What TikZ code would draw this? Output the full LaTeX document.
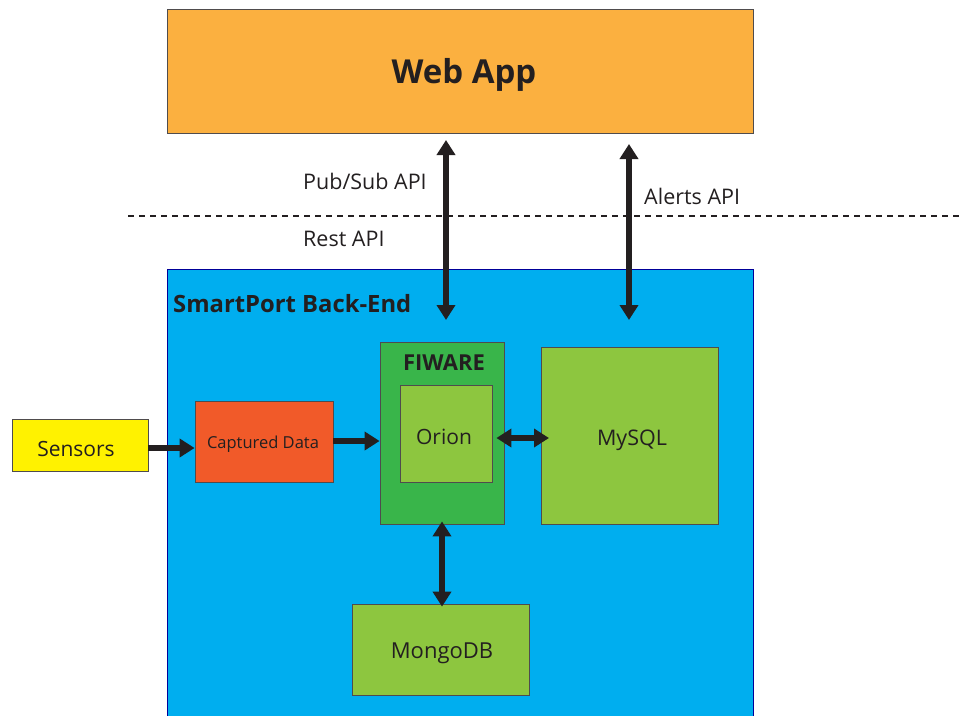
\documentclass[tikz,border=0pt]{standalone}
\usepackage{fontspec}
\setmainfont{Open Sans}
\usetikzlibrary{arrows.meta}
\definecolor{txt}{HTML}{231F20}
\definecolor{orangeapp}{HTML}{FBB040}
\definecolor{backblue}{HTML}{00AEEF}
\definecolor{fiwgreen}{HTML}{39B54A}
\definecolor{ltgreen}{HTML}{8DC63F}
\definecolor{capred}{HTML}{F15A29}
\definecolor{sensyellow}{HTML}{FFF200}
\tikzset{
  box/.style={draw=txt!80, line width=0.8pt, rectangle, inner sep=0pt, text=txt, align=center},
  boxtext/.style={text=txt, inner sep=0pt},
  bigarrow/.style={draw=txt, line width=6pt, -{Triangle[length=15pt,width=18pt]}},
  dblarrow/.style={draw=txt, line width=6pt, {Triangle[length=15pt,width=18pt]}-{Triangle[length=15pt,width=18pt]}},
  lbl/.style={text=txt, font=\fontsize{21.5}{24}\selectfont, inner sep=0pt, anchor=west}
}
\begin{document}
\begin{tikzpicture}[x=1pt,y=-1pt]
\useasboundingbox (0,0) rectangle (964,715);
% Web App
\node[box, fill=orangeapp, minimum width=586pt, minimum height=124pt] (webapp) at (460,71) {};
\node[boxtext, font=\fontsize{33}{38}\selectfont\bfseries] (webapptxt) at (464,75) {Web App};
% dashed separator
\coordinate (dashL) at (128,216);
\coordinate (dashR) at (964,216);
\draw[txt, line width=1.6pt, dash pattern=on 6pt off 5pt] (dashL) -- (dashR);
% labels
\node[lbl] (pubsub) at (303,181) {Pub/Sub API};
\node[lbl] (rest) at (303,239) {Rest API};
\node[lbl] (alerts) at (644,196) {Alerts API};
% Back-end
\node[draw=blue!60!black, line width=0.8pt, fill=backblue, rectangle, minimum width=586pt, minimum height=460pt, inner sep=0pt] (backend) at (460,499) {};
\node[text=txt, font=\fontsize{23.8}{27}\selectfont\bfseries, anchor=west, inner sep=0pt] (betitle) at (173,304) {SmartPort Back-End};
% FIWARE
\node[box, fill=fiwgreen, minimum width=124pt, minimum height=182pt] (fiware) at (442,433) {};
\node[boxtext, font=\fontsize{22}{25}\selectfont\bfseries] (fiwtitle) at (444,363) {FIWARE};
\node[box, fill=ltgreen, minimum width=92pt, minimum height=97pt] (orion) at (446,433.5) {};
\node[boxtext, font=\fontsize{21}{24}\selectfont] (oriontxt) at (444,437) {Orion};
% MySQL
\node[box, fill=ltgreen, minimum width=177pt, minimum height=177pt] (mysql) at (629.5,435.5) {};
\node[boxtext, font=\fontsize{21.5}{24}\selectfont] (mysqltxt) at (632,440) {MySQL};
% Captured Data
\node[box, fill=capred, minimum width=138pt, minimum height=81pt] (captured) at (264,441.5) {};
\node[boxtext, font=\fontsize{16.5}{19}\selectfont] (capturedtxt) at (263,444) {Captured Data};
% Sensors
\node[box, fill=sensyellow, minimum width=136pt, minimum height=52pt] (sensors) at (80,445) {};
\node[boxtext, font=\fontsize{21}{24}\selectfont] (sensorstxt) at (76,449) {Sensors};
% MongoDB
\node[box, fill=ltgreen, minimum width=177pt, minimum height=91pt] (mongo) at (440.5,649.5) {};
\node[boxtext, font=\fontsize{22}{25}\selectfont] (mongotxt) at (442,653) {MongoDB};
% arrow end coordinates
\coordinate (a1top) at (446,140);
\coordinate (a1bot) at (446,320);
\coordinate (a2top) at (629,144);
\coordinate (a2bot) at (629,320);
% arrows
\draw[bigarrow] (sensors.east |- 0,448) -- (captured.west |- 0,448);
\draw[bigarrow] (captured.east |- 0,441) -- (fiware.west |- 0,441);
\draw[dblarrow] ([xshift=4pt]orion.east |- 0,438) -- (549,438);
\draw[dblarrow] ([yshift=3pt]fiware.south -| 442,0) -- ([yshift=-3pt]mongo.north -| 442,0);
\draw[dblarrow] (a1top) -- (a1bot);
\draw[dblarrow] (a2top) -- (a2bot);
\end{tikzpicture}
\end{document}
